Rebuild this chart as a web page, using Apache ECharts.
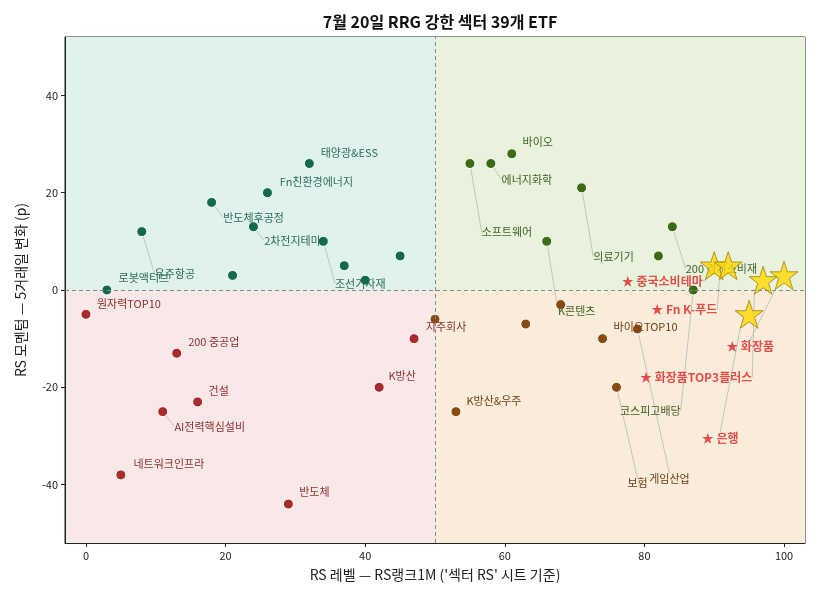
<!DOCTYPE html>
<html>
<head>
<meta charset="utf-8">
<script src="https://cdn.jsdelivr.net/npm/echarts@6/dist/echarts.min.js"></script>
<style>
  html, body { margin: 0; padding: 0; background: #fff; }
  #chart { width: 819px; height: 600px; }
</style>
</head>
<body>
<div id="chart"></div>
<script>
// ETF 이름 / RS 레벨 / RS 모멘텀 ('' = 라벨 없음)
const etfNames = [
  '태양광&ESS', 'Fn친환경에너지', '반도체후공정', '2차전지테마', '조선기자재', '우주항공', '로봇액티브', '', '', '', '',
  '바이오', '에너지화학', '소프트웨어', '의료기기', '200 경기소비재', 'K콘텐츠', '코스피고배당', '',
  '중국소비테마', 'Fn K-푸드', '화장품TOP3플러스', '화장품', '은행',
  '원자력TOP10', '200 중공업', '건설', 'AI전력핵심설비', '네트워크인프라', '반도체', 'K방산', '지주회사',
  '', '', '', '바이오TOP10', '게임산업', '보험', 'K방산&우주'
]
const rsLevel = [
  32, 26, 18, 24, 34, 8, 3, 37, 40, 45, 21,
  61, 58, 55, 71, 84, 66, 87, 82,
  90, 92, 97, 100, 95,
  0, 13, 16, 11, 5, 29, 42, 47,
  50, 63, 68, 74, 79, 76, 53
]
const rsMomentum = [
  26, 20, 18, 13, 10, 12, 0, 5, 2, 7, 3,
  28, 26, 26, 21, 13, 10, 0, 7,
  5, 5, 2, 3, -5,
  -5, -13, -23, -25, -38, -44, -20, -10,
  -6, -7, -3, -10, -8, -20, -25
]
// 강조(★) 종목
const starNames = ['중국소비테마', 'Fn K-푸드', '화장품TOP3플러스', '화장품', '은행']

const xTicks = [0, 20, 40, 60, 80, 100]
const yTicks = [-40, -20, 0, 20, 40]
const xMid = 50
const yMid = 0

// 라벨 위치 (점 중심 기준 px 오프셋), 세번째 값 1 = 지시선 표시
const labelOffsets = {
  '태양광&ESS': [40, -11], 'Fn친환경에너지': [49, -11], '반도체후공정': [42, 15, 1], '2차전지테마': [39, 14, 1],
  '조선기자재': [37, 42, 1], '우주항공': [33, 42, 1], '로봇액티브': [37, -12],
  '바이오': [26, -12], '에너지화학': [36, 16, 1], '소프트웨어': [37, 68, 1], '의료기기': [32, 69, 1],
  '200 경기소비재': [49, 42, 1], 'K콘텐츠': [30, 69, 1], '코스피고배당': [-43, 121, 1],
  '중국소비테마': [-52, 16, 1], 'Fn K-푸드': [-44, 44, 1], '화장품TOP3플러스': [-67, 97, 1], '화장품': [-34, 71, 1], '은행': [-29, 124, 1],
  '원자력TOP10': [43, -11], '200 중공업': [37, -11], '건설': [21, -11], 'AI전력핵심설비': [47, 15, 1],
  '네트워크인프라': [48, -11], '반도체': [26, -12], 'K방산': [23, -11], '지주회사': [32, -12],
  '바이오TOP10': [43, -12], '게임산업': [32, 150, 1], '보험': [21, 96, 1], 'K방산&우주': [38, -11]
}

const quadStyle = {
  lead: { dot: '#3b6b12', text: '#3d5f22', bg: '#e8f2dd' },
  improve: { dot: '#0f6b4c', text: '#2a6b55', bg: '#e0f2ec' },
  lag: { dot: '#a82a2a', text: '#8e2f2f', bg: '#f9e8e8' },
  weak: { dot: '#8b4a10', text: '#6e3d12', bg: '#f9ecda' }
}
function quadOf (x, y) {
  if (x >= xMid) return y >= yMid ? 'lead' : 'weak'
  return y >= yMid ? 'improve' : 'lag'
}

const FONT = '"Noto Sans CJK KR", "Noto Sans", sans-serif'
const guideStyle = { color: '#b8b8b8', width: 0.8 }

function makeItem (i, isStar) {
  const name = etfNames[i]
  const q = quadStyle[quadOf(rsLevel[i], rsMomentum[i])]
  const off = labelOffsets[name]
  const item = {
    name: name,
    value: [rsLevel[i], rsMomentum[i]],
    label: { show: !!off }
  }
  if (!isStar) {
    item.itemStyle = { color: q.dot }
    item.label.color = q.text
  }
  if (off && off[2]) item.labelLine = { show: true, length2: 0, minTurnAngle: 0, lineStyle: guideStyle }
  return item
}

const normalData = []
const starData = []
etfNames.forEach((n, i) => {
  if (starNames.indexOf(n) >= 0) starData.push(makeItem(i, true))
  else normalData.push(makeItem(i, false))
})

function layoutFor (data) {
  return function (params) {
    const o = labelOffsets[data[params.dataIndex].name]
    if (!o) return {}
    return { dx: o[0], dy: o[1], hideOverlap: false }
  }
}

const starPath = 'path://M50,0 L61.8,35.3 L99,35.3 L69,57.6 L80.9,95.1 L50,72.9 L19.1,95.1 L31,57.6 L1,35.3 L38.2,35.3 Z'

const chart = echarts.init(document.getElementById('chart'))
chart.setOption({
  animation: false,
  textStyle: { fontFamily: FONT },
  title: {
    text: '7월 20일 RRG 강한 섹터 39개 ETF',
    left: 435,
    textAlign: 'center',
    top: 9,
    textStyle: { fontSize: 16, fontWeight: 'bold', color: '#111', fontFamily: FONT }
  },
  grid: { left: 65, right: 14, top: 37, bottom: 57, show: true, borderColor: '#222', borderWidth: 1, backgroundColor: 'transparent' },
  xAxis: {
    type: 'value',
    min: -3,
    max: 103,
    name: "RS 레벨 — RS랭크1M ('섹터 RS' 시트 기준)",
    nameLocation: 'middle',
    nameGap: 25,
    nameTextStyle: { fontSize: 14, color: '#222', fontFamily: FONT },
    axisLine: { show: true, onZero: false, lineStyle: { color: '#222' } },
    axisTick: { show: true, length: 4, customValues: xTicks, lineStyle: { color: '#222' } },
    axisLabel: { customValues: xTicks, fontSize: 11, color: '#222', margin: 7 },
    splitLine: { show: false }
  },
  yAxis: {
    type: 'value',
    min: -52,
    max: 52,
    name: 'RS 모멘텀 — 5거래일 변화 (p)',
    nameLocation: 'middle',
    nameGap: 37,
    nameTextStyle: { fontSize: 14, color: '#222', fontFamily: FONT },
    axisLine: { show: true, onZero: false, lineStyle: { color: '#222' } },
    axisTick: { show: true, length: 4, customValues: yTicks, lineStyle: { color: '#222' } },
    axisLabel: { customValues: yTicks, fontSize: 11, color: '#222', margin: 7 },
    splitLine: { show: false }
  },
  graphic: [
    { type: 'text', left: 99, top: 43, style: { text: '① 개선', font: 'bold 13px ' + FONT, fill: '#0f5e44' } },
    { type: 'text', left: 724, top: 43, style: { text: '② 주도', font: 'bold 13px ' + FONT, fill: '#2f5a10' } },
    { type: 'text', left: 99, top: 516, style: { text: '④ 소외', font: 'bold 13px ' + FONT, fill: '#8b1c1c' } },
    { type: 'text', left: 724, top: 516, style: { text: '③ 약화', font: 'bold 13px ' + FONT, fill: '#6b3a0c' } }
  ],
  series: [
    {
      type: 'scatter',
      symbolSize: 10,
      itemStyle: { borderColor: '#fff', borderWidth: 1, opacity: 1 },
      label: { show: true, position: 'inside', formatter: '{b}', fontSize: 11, fontFamily: FONT },
      labelLayout: layoutFor(normalData),
      data: normalData,
      markArea: {
        silent: true,
        z: 0,
        data: [
          [{ coord: [-3, yMid], itemStyle: { color: quadStyle.improve.bg } }, { coord: [xMid, 52] }],
          [{ coord: [xMid, yMid], itemStyle: { color: quadStyle.lead.bg } }, { coord: [103, 52] }],
          [{ coord: [-3, -52], itemStyle: { color: quadStyle.lag.bg } }, { coord: [xMid, yMid] }],
          [{ coord: [xMid, -52], itemStyle: { color: quadStyle.weak.bg } }, { coord: [103, yMid] }]
        ]
      },
      markLine: {
        silent: true,
        symbol: 'none',
        label: { show: false },
        lineStyle: { color: '#888', type: [4, 3], width: 1 },
        data: [{ xAxis: xMid }, { yAxis: yMid }]
      }
    },
    {
      type: 'scatter',
      symbol: starPath,
      symbolSize: 28,
      z: 3,
      itemStyle: { color: '#ffd700', borderColor: '#9c7e0a', borderWidth: 1 },
      label: {
        show: true, position: 'inside', formatter: '★ {b}',
        fontSize: 12, fontWeight: 'bold', color: '#e02525', fontFamily: FONT
      },
      labelLayout: layoutFor(starData),
      data: starData
    }
  ]
})
</script>
</body>
</html>
